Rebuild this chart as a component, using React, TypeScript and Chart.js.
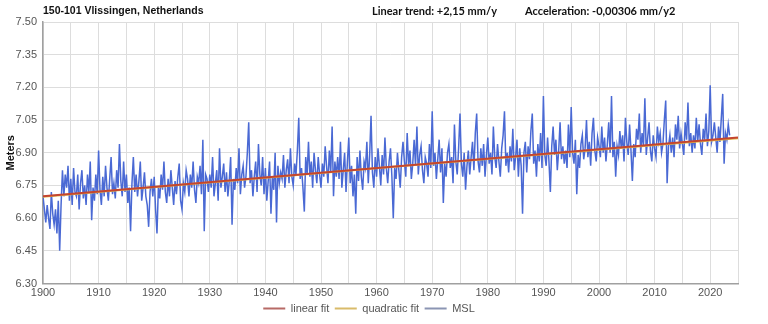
import React, { useEffect, useRef } from "react";
import { Chart, registerables } from "chart.js";

Chart.register(...registerables);

const TITLE = "150-101 Vlissingen, Netherlands";
const TREND_TEXT = "Linear trend: +2,15 mm/y";
const ACCEL_TEXT = "Acceleration: -0,00306 mm/y2";
const Y_TITLE = "Meters";

const X_MIN = 1900;
const X_MAX = 2025;
const X_STEP = 5;
const X_LABEL_EVERY = 10;
const Y_MIN = 6.3;
const Y_MAX = 7.5;
const Y_STEP = 0.15;

const SERIES_NAMES = ["linear fit", "quadratic fit", "MSL"];

// MSL, quarterly samples starting 1900.0
const MSL_START_YEAR = 1900;
const MSL_STEP_YEARS = 0.25;
const MSL_VALUES = [
  6.70, 6.64, 6.58, 6.66, // 1900
  6.60, 6.55, 6.72, 6.62,
  6.57, 6.64, 6.53, 6.68,
  6.45, 6.66, 6.82, 6.70,
  6.80, 6.74, 6.84, 6.68,
  6.78, 6.66, 6.83, 6.72, // 1905
  6.70, 6.80, 6.64, 6.76,
  6.82, 6.69, 6.75, 6.66,
  6.80, 6.72, 6.86, 6.59,
  6.74, 6.68, 6.80, 6.71,
  6.91, 6.73, 6.66, 6.79, // 1910
  6.70, 6.84, 6.74, 6.68,
  6.78, 6.88, 6.71, 6.76,
  6.69, 6.82, 6.74, 6.94,
  6.77, 6.70, 6.86, 6.72,
  6.80, 6.67, 6.74, 6.54, // 1915
  6.76, 6.88, 6.72, 6.80,
  6.70, 6.77, 6.86, 6.68,
  6.74, 6.81, 6.70, 6.66,
  6.56, 6.72, 6.78, 6.70,
  6.79, 6.64, 6.53, 6.74, // 1920
  6.69, 6.80, 6.73, 6.86,
  6.72, 6.67, 6.78, 6.70,
  6.82, 6.74, 6.66, 6.77,
  6.71, 6.79, 6.85, 6.68,
  6.64, 6.76, 6.72, 6.82, // 1925
  6.78, 6.70, 6.80, 6.74,
  6.86, 6.73, 6.67, 6.79,
  6.76, 6.84, 6.71, 6.96,
  6.54, 6.80, 6.78, 6.72,
  6.80, 6.74, 6.88, 6.70, // 1930
  6.76, 6.82, 6.68, 6.92,
  6.74, 6.79, 6.85, 6.72,
  6.81, 6.70, 6.77, 6.88,
  6.57, 6.78, 6.73, 6.83,
  6.76, 6.92, 6.71, 6.80, // 1935
  6.84, 6.74, 6.79, 6.90,
  7.04, 6.76, 6.82, 6.70,
  6.79, 6.86, 6.72, 6.94,
  6.80, 6.75, 6.88, 6.71,
  6.83, 6.68, 6.77, 6.86, // 1940
  6.62, 6.79, 6.73, 6.90,
  6.58, 6.84, 6.76, 6.81,
  6.78, 6.89, 6.74, 6.82,
  6.87, 6.76, 6.92, 6.79,
  6.75, 6.85, 6.80, 6.91, // 1945
  7.06, 6.78, 6.83, 6.74,
  6.63, 6.88, 6.80, 6.95,
  6.79, 6.86, 6.74, 6.90,
  6.82, 6.76, 6.88, 6.80,
  6.74, 6.85, 6.79, 6.93, // 1950
  6.84, 6.76, 6.91, 6.81,
  7.02, 6.70, 6.86, 6.79,
  6.88, 6.78, 6.95, 6.74,
  6.82, 6.90, 6.72, 6.86,
  6.97, 6.76, 6.84, 6.70, // 1955
  6.80, 6.62, 6.88, 6.77,
  6.91, 6.79, 6.73, 6.86,
  6.83, 6.95, 6.76, 6.89,
  7.07, 6.81, 6.74, 6.88,
  6.79, 6.92, 6.84, 6.75, // 1960
  6.89, 6.80, 6.97, 6.83,
  6.76, 6.86, 6.92, 6.79,
  6.60, 6.83, 6.78, 6.90,
  6.82, 6.74, 6.88, 6.95,
  6.86, 6.79, 6.99, 6.84, // 1965
  6.91, 6.78, 6.85, 6.96,
  6.84, 7.02, 6.80, 6.89,
  6.93, 6.82, 6.76, 6.88,
  6.85, 6.79, 6.94, 6.83,
  7.09, 6.84, 6.90, 6.78, // 1970
  6.87, 6.96, 6.81, 6.92,
  6.67, 6.85, 6.79, 6.90,
  6.94, 6.83, 6.88, 6.76,
  7.03, 6.86, 6.80, 6.92,
  7.08, 6.85, 6.79, 6.90, // 1975
  6.73, 6.84, 6.91, 6.80,
  6.88, 6.95, 6.82, 6.99,
  7.08, 6.86, 6.81, 6.92,
  6.84, 6.94, 6.79, 6.89,
  6.97, 6.85, 6.90, 6.80, // 1980
  7.02, 6.88, 6.83, 6.94,
  6.86, 6.79, 6.92, 6.98,
  7.09, 6.84, 6.90, 6.81,
  6.93, 6.86, 7.01, 6.82,
  6.88, 6.96, 6.79, 6.92, // 1985
  6.84, 6.62, 6.90, 6.95,
  6.81, 6.93, 6.87, 7.00,
  7.08, 6.85, 6.91, 6.79,
  6.94, 6.86, 6.99, 6.83,
  7.16, 6.89, 6.84, 6.97, // 1990
  6.86, 6.72, 6.93, 7.02,
  6.89, 6.96, 6.82, 6.91,
  7.04, 6.87, 6.93, 6.85,
  6.91, 6.83, 7.03, 6.88,
  7.11, 6.90, 6.85, 6.96, // 1995
  6.71, 6.89, 6.83, 6.94,
  6.98, 6.87, 6.92, 7.05,
  6.88, 6.95, 6.84, 6.99,
  7.06, 6.91, 6.86, 6.97,
  6.93, 6.88, 7.02, 6.90, // 2000
  6.97, 6.86, 6.94, 7.04,
  6.90, 7.16, 6.88, 6.95,
  6.79, 6.93, 6.89, 7.00,
  6.92, 6.98, 6.86, 7.06,
  6.95, 6.89, 7.03, 6.91, // 2005
  6.77, 6.94, 6.88, 7.01,
  6.96, 7.08, 6.90, 6.99,
  6.93, 7.15, 6.89, 6.97,
  7.04, 6.91, 6.86, 6.98,
  6.92, 6.88, 7.02, 6.95, // 2010
  6.99, 6.90, 6.94, 7.05,
  7.14, 6.76, 6.93, 6.98,
  6.90, 6.97, 6.88, 7.03,
  6.96, 7.07, 6.92, 6.99,
  6.94, 6.89, 7.04, 6.96, // 2015
  7.13, 6.93, 6.99, 6.90,
  6.98, 6.92, 7.06, 6.95,
  7.03, 6.94, 6.89, 7.01,
  6.96, 7.08, 6.93, 7.00,
  7.21, 6.95, 6.98, 7.04, // 2020
  6.97, 6.90, 7.02, 6.95,
  7.06, 7.17, 6.85, 6.99,
  6.96, 7.03, 6.98,
];

const LINEAR_FIT_YEARS = [1900, 2025];
const LINEAR_FIT_VALUES = [6.70, 6.97];

const QUADRATIC_FIT_YEARS = [1900, 1925, 1950, 1975, 2000, 2025];
const QUADRATIC_FIT_VALUES = [6.698, 6.753, 6.807, 6.861, 6.914, 6.966];

const COLORS = {
  linear: "#c4452f",
  quadratic: "#e0b84a",
  msl: "#4a69d4",
};
const LEGEND_COLORS = ["#b76a66", "#d9bb6a", "#8b95b3"];

const headerPlugin = {
  id: "headerTexts",
  beforeDraw(chart: any) {
    const ctx = chart.ctx;
    ctx.save();
    ctx.fillStyle = "#ffffff";
    ctx.fillRect(0, 0, chart.width, chart.height);
    ctx.restore();
  },
  afterDraw(chart: any) {
    const ctx = chart.ctx;
    const area = chart.chartArea;
    ctx.save();
    ctx.fillStyle = "#111111";
    ctx.textBaseline = "alphabetic";
    ctx.textAlign = "left";
    ctx.font = 'bold 10.5px "Liberation Sans", Arial, sans-serif';
    ctx.fillText(TITLE, area.left, 14);
    ctx.font = 'bold 11px Lato, "Open Sans", sans-serif';
    ctx.fillText(TREND_TEXT, 372, 15);
    ctx.fillText(ACCEL_TEXT, 525, 15);
    ctx.restore();
  },
};

export default function App() {
  const canvasRef = useRef<HTMLCanvasElement | null>(null);

  useEffect(() => {
    if (!canvasRef.current) return;
    const mslData = MSL_VALUES.map((v, i) => ({ x: MSL_START_YEAR + i * MSL_STEP_YEARS, y: v }));
    const linData = LINEAR_FIT_YEARS.map((x, i) => ({ x, y: LINEAR_FIT_VALUES[i] }));
    const quadData = QUADRATIC_FIT_YEARS.map((x, i) => ({ x, y: QUADRATIC_FIT_VALUES[i] }));

    const chart = new Chart(canvasRef.current, {
      type: "line",
      data: {
        datasets: [
          {
            label: SERIES_NAMES[0],
            data: linData,
            borderColor: COLORS.linear,
            borderWidth: 2,
            pointRadius: 0,
            fill: false,
          },
          {
            label: SERIES_NAMES[1],
            data: quadData,
            borderColor: COLORS.quadratic,
            borderWidth: 2,
            pointRadius: 0,
            tension: 0.4,
            fill: false,
          },
          {
            label: SERIES_NAMES[2],
            data: mslData,
            borderColor: COLORS.msl,
            borderWidth: 1.5,
            pointRadius: 0,
            fill: false,
          },
        ],
      },
      options: {
        animation: false,
        responsive: true,
        maintainAspectRatio: false,
        layout: { padding: { top: 22, right: 30, left: 0, bottom: 0 } },
        plugins: {
          tooltip: { enabled: false },
          legend: {
            position: "bottom",
            align: "center",
            labels: {
              usePointStyle: true,
              pointStyle: "line",
              pointStyleWidth: 22,
              boxHeight: 11,
              padding: 5.5,
              color: "#555555",
              font: { family: '"Liberation Sans", Arial, sans-serif', size: 11 },
              generateLabels(chart: any) {
                const items = Chart.defaults.plugins.legend.labels.generateLabels(chart);
                return items.map((it: any, i: number) => ({
                  ...it,
                  strokeStyle: LEGEND_COLORS[i],
                  fillStyle: LEGEND_COLORS[i],
                  lineWidth: 2,
                  pointStyle: "line",
                }));
              },
            },
          },
        },
        scales: {
          x: {
            type: "linear",
            min: X_MIN,
            max: X_MAX,
            afterFit(scale: any) {
              scale.height = 14;
            },
            ticks: {
              stepSize: X_STEP,
              autoSkip: false,
              maxRotation: 0,
              padding: 3,
              color: "#555555",
              font: { family: '"Liberation Sans", Arial, sans-serif', size: 11 },
              callback: (v: any) => (Number(v) % X_LABEL_EVERY === 0 ? String(v) : ""),
            },
            grid: { color: "#dddddd", drawTicks: false, lineWidth: 1 },
            border: { display: true, color: "#a0a0a0", width: 1.5 },
          },
          y: {
            type: "linear",
            min: Y_MIN,
            max: Y_MAX,
            afterFit(scale: any) {
              scale.width = 43;
            },
            title: {
              display: true,
              text: Y_TITLE,
              color: "#111111",
              font: { family: '"Liberation Sans", Arial, sans-serif', size: 11, weight: "bold" },
              padding: { top: 4, bottom: 0 },
            },
            ticks: {
              stepSize: Y_STEP,
              padding: 6,
              color: "#555555",
              font: { family: '"Liberation Sans", Arial, sans-serif', size: 11 },
              callback: (v: any) => Number(v).toFixed(2),
            },
            grid: { color: "#dddddd", drawTicks: false, lineWidth: 1 },
            border: { display: true, color: "#a0a0a0", width: 1.5 },
          },
        },
      },
      plugins: [headerPlugin],
    });
    return () => chart.destroy();
  }, []);

  return (
    <div style={{ position: "fixed", left: 0, top: 0, width: 768, height: 324, background: "#fff" }}>
      <canvas ref={canvasRef} />
    </div>
  );
}
